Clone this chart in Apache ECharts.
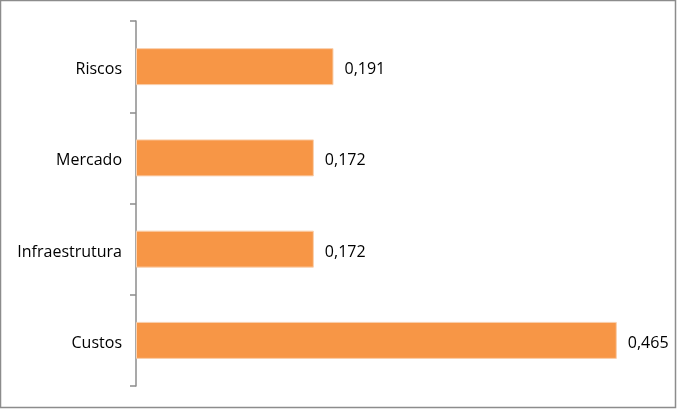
<!DOCTYPE html>
<html><head><meta charset="utf-8">
<script src="https://cdn.jsdelivr.net/npm/echarts@6/dist/echarts.min.js"></script>
<style>html,body{margin:0;padding:0;background:#fff}#c{width:677px;height:410px}</style>
</head><body><div id="c"></div>
<script>
const categories = ['Custos', 'Infraestrutura', 'Mercado', 'Riscos'];
const values = [0.465, 0.172, 0.172, 0.191];

const chart = echarts.init(document.getElementById('c'));
chart.setOption({
  animation: false,
  graphic: [{
    type: 'rect', shape: {x: 0.5, y: 0.5, width: 675, height: 407},
    style: {fill: 'none', stroke: '#8c8c8c', lineWidth: 1.5}
  }],
  grid: {left: 136, top: 21, bottom: 24, width: 517},
  xAxis: {type: 'value', min: 0, max: 0.5, show: false},
  yAxis: {
    type: 'category', data: categories,
    axisLine: {lineStyle: {color: '#8c8c8c', width: 1.5}},
    axisTick: {show: true, length: 6, lineStyle: {color: '#8c8c8c', width: 1.5}},
    axisLabel: {
      margin: 14, color: '#000', fontSize: 16, fontFamily: 'Open Sans',
      formatter: v => '{a|' + v + '}',
      rich: {a: {color: '#000', fontSize: 16, fontFamily: 'Open Sans', padding: [6, 0, 0, 0]}}
    }
  },
  series: [{
    type: 'bar', data: values, barWidth: 37,
    itemStyle: {color: '#F79646', borderColor: '#FAD0AE', borderWidth: 1},
    label: {
      show: true, position: 'right', distance: 11, color: '#000', fontSize: 16,
      fontFamily: 'Open Sans', offset: [0, 3],
      formatter: p => p.value.toFixed(3).replace('.', ',')
    }
  }]
});
</script></body></html>
